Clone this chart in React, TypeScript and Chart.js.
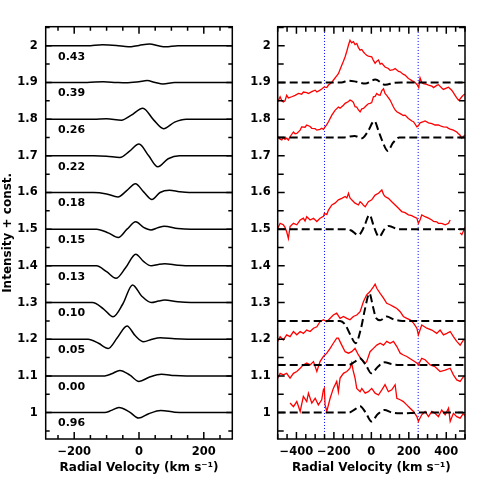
import React, { useEffect, useRef } from "react";
import { Chart, registerables } from "chart.js";

Chart.register(...registerables);

const FONT = "DejaVu Sans";

// ---------- Left panel: model profiles (deviation from constant) ----------
const phaseLabels = ["0.96", "0.00", "0.05", "0.10", "0.13", "0.15", "0.18", "0.22", "0.26", "0.39", "0.43"];
const leftOffsets = [1.0, 1.1, 1.2, 1.3, 1.4, 1.5, 1.6, 1.7, 1.8, 1.9, 2.0];

const prof096 = [[-288, 0], [-106, 0], [-85, 0.006], [-62, 0.014], [-30, 0.002], [-1, -0.015], [30, -0.003], [67, 0.006], [110, 0.001], [146, 0], [288, 0]];
const prof000 = [[-288, 0], [-106, 0], [-84, 0.006], [-59, 0.015], [-28, 0.002], [0, -0.015], [33, -0.003], [69, 0.0045], [110, 0.001], [146, 0], [288, 0]];
const prof005 = [[-288, 0], [-157, 0], [-125, -0.011], [-95, -0.025], [-67, 0.004], [-37, 0.036], [-12, 0.01], [14, -0.007], [40, 0.0], [66, 0.004], [110, 0.001], [150, 0], [288, 0]];
const prof010 = [[-288, 0], [-144, 0], [-110, -0.017], [-80, -0.039], [-50, -0.004], [-20, 0.048], [8, 0.018], [38, 0.0], [60, 0.004], [79, 0.007], [120, 0.002], [160, 0], [288, 0]];
const prof013 = [[-288, 0], [-131, 0], [-100, -0.016], [-71, -0.034], [-42, -0.006], [-10, 0.032], [14, 0.012], [38, 0.0], [60, 0.004], [79, 0.006], [120, 0.002], [160, 0], [288, 0]];
const prof015 = [[-288, 0], [-131, 0], [-95, -0.010], [-64, -0.023], [-37, 0.0], [-10, 0.020], [14, 0.005], [37, -0.002], [58, 0.004], [78, 0.008], [120, 0.002], [160, 0], [288, 0]];
const prof018 = [[-288, 0], [-140, 0], [-100, -0.004], [-65, -0.012], [-38, 0.005], [-11, 0.024], [15, 0.001], [40, -0.019], [65, 0.0], [94, 0.006], [125, 0.002], [155, 0], [288, 0]];
const prof022 = [[-288, 0], [-140, 0], [-100, -0.001], [-59, -0.0045], [-30, 0.012], [0, 0.032], [30, 0.0], [58, -0.030], [90, -0.008], [125, 0], [288, 0]];
const prof026 = [[-288, 0], [-140, 0], [-100, 0.001], [-54, -0.003], [-25, 0.010], [12, 0.030], [45, -0.002], [76, -0.026], [110, -0.008], [146, 0], [288, 0]];
const prof039 = [[-288, 0], [-160, 0], [-110, 0.002], [-70, 0.0], [-40, -0.001], [0, 0.002], [25, 0.005], [50, 0.0], [74, -0.004], [110, 0], [288, 0]];
const prof043 = [[-288, 0], [-160, 0], [-113, 0.003], [-70, 0.001], [-33, -0.003], [0, 0.001], [33, 0.005], [60, 0.0], [82, -0.003], [120, 0], [288, 0]];
const leftProfiles = [prof096, prof000, prof005, prof010, prof013, prof015, prof018, prof022, prof026, prof039, prof043];

// ---------- Right panel: models (dashed) ----------
const modelOffsets = [1.0, 1.13, 1.25, 1.5, 1.75, 1.9];
const modelA = [[-500, 0], [-120, 0], [-90, 0.008], [-60, 0.017], [-30, 0.0], [0, -0.024], [35, -0.004], [70, 0.007], [110, 0.0], [150, -0.002], [220, -0.001], [260, 0], [500, 0]];
const modelB = [[-500, 0], [-122, 0], [-90, 0.008], [-62, 0.018], [-30, 0.0], [0, -0.023], [35, -0.005], [70, 0.007], [110, 0.002], [150, 0], [500, 0]];
const modelC = [[-500, 0], [-167, 0], [-140, -0.01], [-110, -0.04], [-84, -0.061], [-55, -0.02], [-35, 0.03], [-10, 0.075], [8, 0.04], [25, 0.008], [47, 0.002], [82, 0.012], [120, 0.004], [165, 0], [500, 0]];
const modelD = [[-500, 0], [-150, 0], [-110, -0.003], [-69, -0.016], [-40, 0.005], [-10, 0.039], [15, 0.005], [41, -0.021], [70, 0.0], [94, 0.009], [145, 0], [500, 0]];
const modelE = [[-500, 0], [-150, 0], [-90, 0.004], [-50, -0.002], [-20, 0.015], [16, 0.045], [40, 0.015], [55, -0.005], [88, -0.037], [115, -0.015], [150, 0], [500, 0]];
const modelF = [[-500, 0], [-160, 0], [-121, 0.005], [-80, 0.002], [-32, -0.003], [21, 0.008], [75, -0.0065], [120, -0.001], [160, 0], [500, 0]];
const models = [modelA, modelB, modelC, modelD, modelE, modelF];

// ---------- Right panel: observed spectra (red) ----------
const obs1 = [[-500, 1.847], [-487, 1.861], [-478, 1.85], [-470, 1.847], [-461, 1.85], [-452, 1.865], [-443, 1.858], [-425, 1.861], [-407, 1.865], [-389, 1.87], [-372, 1.868], [-363, 1.874], [-345, 1.872], [-336, 1.87], [-318, 1.875], [-300, 1.879], [-291, 1.874], [-274, 1.879], [-265, 1.882], [-251, 1.888], [-238, 1.886], [-229, 1.893], [-211, 1.9], [-203, 1.906], [-185, 1.918], [-176, 1.924], [-158, 1.947], [-149, 1.958], [-140, 1.97], [-131, 1.985], [-122, 2.002], [-114, 2.015], [-105, 2.008], [-96, 2.011], [-87, 2.003], [-78, 2.006], [-69, 1.995], [-60, 1.988], [-51, 1.99], [-42, 1.983], [-33, 1.978], [-25, 1.974], [-16, 1.972], [2, 1.97], [11, 1.96], [20, 1.952], [29, 1.958], [38, 1.961], [47, 1.95], [56, 1.952], [73, 1.942], [91, 1.938], [100, 1.933], [118, 1.935], [127, 1.938], [145, 1.93], [154, 1.929], [171, 1.922], [180, 1.92], [198, 1.911], [207, 1.908], [216, 1.905], [234, 1.9], [246, 1.893], [253, 1.886], [260, 1.913], [269, 1.9], [278, 1.897], [296, 1.895], [305, 1.893], [323, 1.89], [332, 1.886], [349, 1.892], [358, 1.894], [376, 1.885], [385, 1.881], [403, 1.885], [412, 1.887], [429, 1.879], [438, 1.872], [447, 1.865], [456, 1.858], [465, 1.852], [474, 1.855], [483, 1.861], [492, 1.866], [500, 1.868]];
const obs2 = [[-500, 1.752], [-487, 1.745], [-478, 1.743], [-470, 1.75], [-461, 1.745], [-452, 1.748], [-443, 1.743], [-434, 1.752], [-416, 1.765], [-407, 1.76], [-398, 1.761], [-380, 1.77], [-372, 1.779], [-354, 1.778], [-345, 1.784], [-327, 1.78], [-318, 1.775], [-300, 1.774], [-291, 1.77], [-274, 1.772], [-265, 1.775], [-256, 1.772], [-247, 1.779], [-238, 1.785], [-229, 1.793], [-211, 1.811], [-194, 1.824], [-176, 1.833], [-167, 1.83], [-149, 1.838], [-140, 1.843], [-122, 1.848], [-114, 1.852], [-105, 1.85], [-96, 1.846], [-87, 1.834], [-78, 1.833], [-69, 1.825], [-60, 1.82], [-51, 1.828], [-42, 1.829], [-25, 1.838], [-16, 1.842], [-7, 1.843], [2, 1.845], [11, 1.861], [20, 1.862], [29, 1.87], [38, 1.866], [47, 1.865], [56, 1.878], [65, 1.883], [73, 1.87], [82, 1.865], [100, 1.852], [118, 1.833], [127, 1.825], [136, 1.82], [154, 1.815], [171, 1.81], [180, 1.811], [198, 1.802], [216, 1.795], [225, 1.793], [243, 1.779], [251, 1.782], [260, 1.79], [278, 1.793], [287, 1.795], [305, 1.79], [323, 1.788], [340, 1.784], [358, 1.784], [376, 1.78], [385, 1.779], [403, 1.778], [412, 1.775], [421, 1.773], [438, 1.77], [456, 1.765], [465, 1.76], [474, 1.756], [483, 1.748], [492, 1.753], [500, 1.757]];
const obs3 = [[-500, 1.502], [-487, 1.516], [-470, 1.512], [-461, 1.505], [-452, 1.493], [-443, 1.475], [-434, 1.507], [-416, 1.516], [-398, 1.512], [-380, 1.525], [-363, 1.53], [-354, 1.522], [-345, 1.534], [-327, 1.525], [-309, 1.53], [-291, 1.521], [-274, 1.53], [-256, 1.535], [-251, 1.543], [-238, 1.54], [-229, 1.552], [-211, 1.566], [-194, 1.571], [-176, 1.58], [-158, 1.584], [-140, 1.589], [-131, 1.585], [-122, 1.598], [-114, 1.585], [-105, 1.58], [-87, 1.571], [-69, 1.566], [-60, 1.575], [-51, 1.571], [-42, 1.565], [-33, 1.561], [-16, 1.575], [2, 1.58], [20, 1.593], [38, 1.598], [56, 1.607], [65, 1.595], [73, 1.589], [91, 1.584], [109, 1.575], [127, 1.566], [145, 1.557], [162, 1.548], [180, 1.545], [198, 1.539], [216, 1.537], [225, 1.534], [243, 1.53], [251, 1.516], [260, 1.525], [269, 1.539], [287, 1.534], [305, 1.53], [323, 1.525], [332, 1.521], [349, 1.52], [358, 1.516], [376, 1.516], [394, 1.512], [412, 1.516], [421, 1.525]];
const obs3tail = [[474, 1.49], [483, 1.485], [492, 1.495], [500, 1.505]];
const obs4 = [[-500, 1.194], [-487, 1.207], [-470, 1.198], [-452, 1.212], [-434, 1.207], [-416, 1.221], [-398, 1.212], [-380, 1.221], [-363, 1.216], [-345, 1.225], [-327, 1.221], [-309, 1.23], [-291, 1.234], [-274, 1.248], [-256, 1.253], [-238, 1.248], [-220, 1.257], [-203, 1.266], [-185, 1.271], [-167, 1.257], [-149, 1.262], [-131, 1.257], [-114, 1.253], [-96, 1.262], [-78, 1.266], [-60, 1.275], [-42, 1.303], [-25, 1.321], [-7, 1.33], [11, 1.343], [20, 1.35], [29, 1.339], [47, 1.325], [65, 1.312], [82, 1.298], [100, 1.294], [118, 1.289], [136, 1.284], [154, 1.275], [171, 1.262], [189, 1.257], [207, 1.253], [225, 1.244], [243, 1.23], [251, 1.212], [269, 1.239], [296, 1.23], [323, 1.225], [349, 1.216], [367, 1.225], [385, 1.212], [403, 1.216], [421, 1.221], [438, 1.207], [456, 1.194], [474, 1.184], [492, 1.198], [500, 1.2]];
const obs5 = [[-500, 1.094], [-487, 1.107], [-470, 1.103], [-452, 1.107], [-434, 1.094], [-416, 1.107], [-398, 1.112], [-380, 1.121], [-363, 1.13], [-345, 1.135], [-327, 1.13], [-309, 1.139], [-291, 1.112], [-274, 1.139], [-256, 1.153], [-238, 1.162], [-220, 1.175], [-203, 1.189], [-185, 1.203], [-176, 1.203], [-158, 1.184], [-140, 1.166], [-122, 1.162], [-105, 1.166], [-87, 1.175], [-69, 1.157], [-51, 1.144], [-33, 1.135], [-25, 1.139], [-7, 1.166], [11, 1.175], [29, 1.184], [47, 1.189], [65, 1.184], [82, 1.194], [100, 1.189], [118, 1.194], [136, 1.18], [154, 1.162], [171, 1.157], [189, 1.153], [216, 1.144], [243, 1.135], [251, 1.13], [269, 1.148], [287, 1.144], [314, 1.13], [340, 1.125], [367, 1.112], [394, 1.116], [421, 1.121], [438, 1.103], [456, 1.089], [474, 1.085], [492, 1.098], [500, 1.1]];
const obs6 = [[-434, 1.026], [-416, 1.016], [-398, 1.03], [-380, 1.003], [-363, 1.044], [-345, 1.03], [-336, 1.053], [-318, 1.026], [-300, 1.039], [-283, 1.021], [-265, 1.035], [-256, 1.062], [-251, 1.066], [-247, 1.021], [-238, 1.003], [-220, 1.039], [-203, 1.066], [-185, 1.085], [-176, 1.057], [-167, 1.094], [-149, 1.107], [-131, 1.112], [-114, 1.121], [-105, 1.135], [-96, 1.112], [-87, 1.094], [-78, 1.066], [-60, 1.057], [-51, 1.066], [-33, 1.053], [-16, 1.057], [2, 1.066], [20, 1.053], [38, 1.048], [56, 1.062], [73, 1.076], [91, 1.057], [109, 1.062], [127, 1.076], [136, 1.039], [154, 1.035], [171, 1.03], [189, 1.021], [207, 1.012], [225, 1.003], [243, 0.989], [251, 0.976], [269, 0.994], [287, 1.003], [305, 0.989], [323, 1.003], [340, 0.998], [358, 0.989], [376, 1.007], [394, 0.994], [412, 1.012], [421, 0.976], [438, 0.998], [456, 0.989], [474, 0.985], [492, 0.998], [500, 0.99]];
const observed = [obs1, obs2, obs3, obs3tail, obs4, obs5, obs6];

const markerVelocities = [-250, 250];

// ---------- Axes ----------
const yRange = [0.928, 2.052];
const leftXRange = [-288, 288];
const rightXRange = [-500, 500];
const yTickLabels = [1, 1.1, 1.2, 1.3, 1.4, 1.5, 1.6, 1.7, 1.8, 1.9, 2];
const leftXTickLabels = [-200, 0, 200];
const rightXTickLabels = [-400, -200, 0, 200, 400];
const xTitle = "Radial Velocity (km s\u207B\u00B9)";
const yTitle = "Intensity + const.";

const fmtX = (v: number) => (v < 0 ? "\u2212" + Math.abs(v) : String(v));
const fmtY = (v: number) => String(Number(v.toFixed(2)));

const toXY = (pairs: number[][], off = 0) => pairs.map(([x, y]) => ({ x, y: y + off }));

function decorPlugin(o: any) {
  return {
    id: "decor" + o.name,
    afterDraw(chart: any) {
      const { ctx, chartArea: a, scales } = chart;
      const xs = scales.x, ys = scales.y;
      ctx.save();
      ctx.strokeStyle = "#000";
      ctx.lineWidth = 1.5;
      const xMinor: number[] = [];
      for (let v = Math.ceil(xs.min / 50) * 50; v <= xs.max; v += 50) xMinor.push(v);
      ctx.beginPath();
      xMinor.forEach((v) => {
        const len = o.xMajor.includes(v) ? o.xMajorLen : o.xMinorLen;
        const p = xs.getPixelForValue(v);
        ctx.moveTo(p, a.bottom); ctx.lineTo(p, a.bottom - len);
        ctx.moveTo(p, a.top); ctx.lineTo(p, a.top + len);
      });
      for (let k = 19; k <= 41; k++) {
        const v = k * 0.05;
        if (v < ys.min || v > ys.max) continue;
        const len = k % 2 === 0 ? o.yMajorLen : o.yMinorLen;
        const p = ys.getPixelForValue(v);
        ctx.moveTo(a.left, p); ctx.lineTo(a.left + len, p);
        ctx.moveTo(a.right, p); ctx.lineTo(a.right - len, p);
      }
      ctx.stroke();
      ctx.strokeRect(a.left, a.top, a.right - a.left, a.bottom - a.top);
      ctx.fillStyle = "#000";
      ctx.font = `bold 12px "${FONT}"`;
      ctx.textAlign = "center";
      ctx.textBaseline = "middle";
      ctx.fillText(xTitle, (a.left + a.right) / 2, o.xTitleY);
      if (o.yTitle) {
        ctx.save();
        ctx.translate(o.yTitleX, (a.top + a.bottom) / 2);
        ctx.rotate(-Math.PI / 2);
        ctx.fillText(yTitle, 0, 0);
        ctx.restore();
      }
      if (o.phases) {
        ctx.font = `bold 11px "${FONT}"`;
        ctx.textAlign = "left";
        phaseLabels.forEach((t, i) => {
          ctx.fillText(t, xs.getPixelForValue(-250), ys.getPixelForValue(leftOffsets[i] - 0.03));
        });
      }
      ctx.restore();
    },
  };
}

function scalesFor(xRange: number[], xLabels: number[], yWidth: number, yPad: number) {
  const tickFont = { family: FONT, size: 11.5, weight: "bold" as const };
  return {
    x: {
      type: "linear" as const,
      min: xRange[0],
      max: xRange[1],
      grid: { display: false, drawTicks: false },
      border: { display: false },
      ticks: { font: tickFont, color: "#000", padding: 6, maxRotation: 0, autoSkip: false, callback: (v: any) => fmtX(Number(v)) },
      afterBuildTicks: (s: any) => { s.ticks = xLabels.map((v) => ({ value: v })); },
      afterFit: (s: any) => { s.height = 52; },
    },
    y: {
      type: "linear" as const,
      min: yRange[0],
      max: yRange[1],
      grid: { display: false, drawTicks: false },
      border: { display: false },
      ticks: { font: tickFont, color: "#000", padding: yPad, autoSkip: false, callback: (v: any) => fmtY(Number(v)) },
      afterBuildTicks: (s: any) => { s.ticks = yTickLabels.map((v) => ({ value: v })); },
      afterFit: (s: any) => { s.width = yWidth; },
    },
  };
}

const basePlugins = { legend: { display: false }, tooltip: { enabled: false } };

export default function App() {
  const leftRef = useRef<HTMLCanvasElement>(null);
  const rightRef = useRef<HTMLCanvasElement>(null);

  useEffect(() => {
    const leftDatasets = leftProfiles.map((p, i) => ({
      data: toXY(p, leftOffsets[i]),
      showLine: true,
      borderColor: "#000",
      borderWidth: 1.5,
      pointRadius: 0,
      cubicInterpolationMode: "monotone" as const,
    }));
    const left = new Chart(leftRef.current!, {
      type: "scatter",
      data: { datasets: leftDatasets as any },
      options: {
        responsive: false,
        animation: false,
        devicePixelRatio: 1,
        layout: { padding: { left: 0, right: 12.7, top: 26.7, bottom: 0 } },
        scales: scalesFor(leftXRange, leftXTickLabels, 45.7, 8) as any,
        plugins: basePlugins,
      },
      plugins: [decorPlugin({ name: "L", xMajor: leftXTickLabels, xMajorLen: 7, xMinorLen: 4, yMajorLen: 6, yMinorLen: 4, xTitleY: 468, yTitle: true, yTitleX: 8, phases: true })],
    });

    const markerSets = markerVelocities.map((v) => ({
      data: [{ x: v, y: 0.8 }, { x: v, y: 2.2 }],
      showLine: true,
      borderColor: "#0000ff",
      borderWidth: 1,
      borderDash: [1, 2],
      pointRadius: 0,
    }));
    const modelSets = models.map((m, i) => ({
      data: toXY(m, modelOffsets[i]),
      showLine: true,
      borderColor: "#000",
      borderWidth: 2,
      borderDash: [8, 4],
      pointRadius: 0,
      cubicInterpolationMode: "monotone" as const,
    }));
    const obsSets = observed.map((o) => ({
      data: toXY(o),
      showLine: true,
      borderColor: "#ff0000",
      borderWidth: 1.3,
      pointRadius: 0,
    }));
    const right = new Chart(rightRef.current!, {
      type: "scatter",
      data: { datasets: [...modelSets, ...obsSets, ...markerSets] as any },
      options: {
        responsive: false,
        animation: false,
        devicePixelRatio: 1,
        layout: { padding: { left: 0, right: 26, top: 26.7, bottom: 0 } },
        scales: scalesFor(rightXRange, rightXTickLabels, 32.7, 7) as any,
        plugins: basePlugins,
      },
      plugins: [decorPlugin({ name: "R", xMajor: rightXTickLabels, xMajorLen: 7, xMinorLen: 5, yMajorLen: 7, yMinorLen: 6, xTitleY: 468, yTitle: false, phases: false })],
    });

    return () => {
      left.destroy();
      right.destroy();
    };
  }, []);

  return (
    <div style={{ position: "fixed", left: 0, top: 0, width: 491, height: 491, background: "#fff" }}>
      <canvas ref={leftRef} width={245} height={491} style={{ position: "absolute", left: 0, top: 0, width: 245, height: 491 }} />
      <canvas ref={rightRef} width={246} height={491} style={{ position: "absolute", left: 245, top: 0, width: 246, height: 491 }} />
    </div>
  );
}
